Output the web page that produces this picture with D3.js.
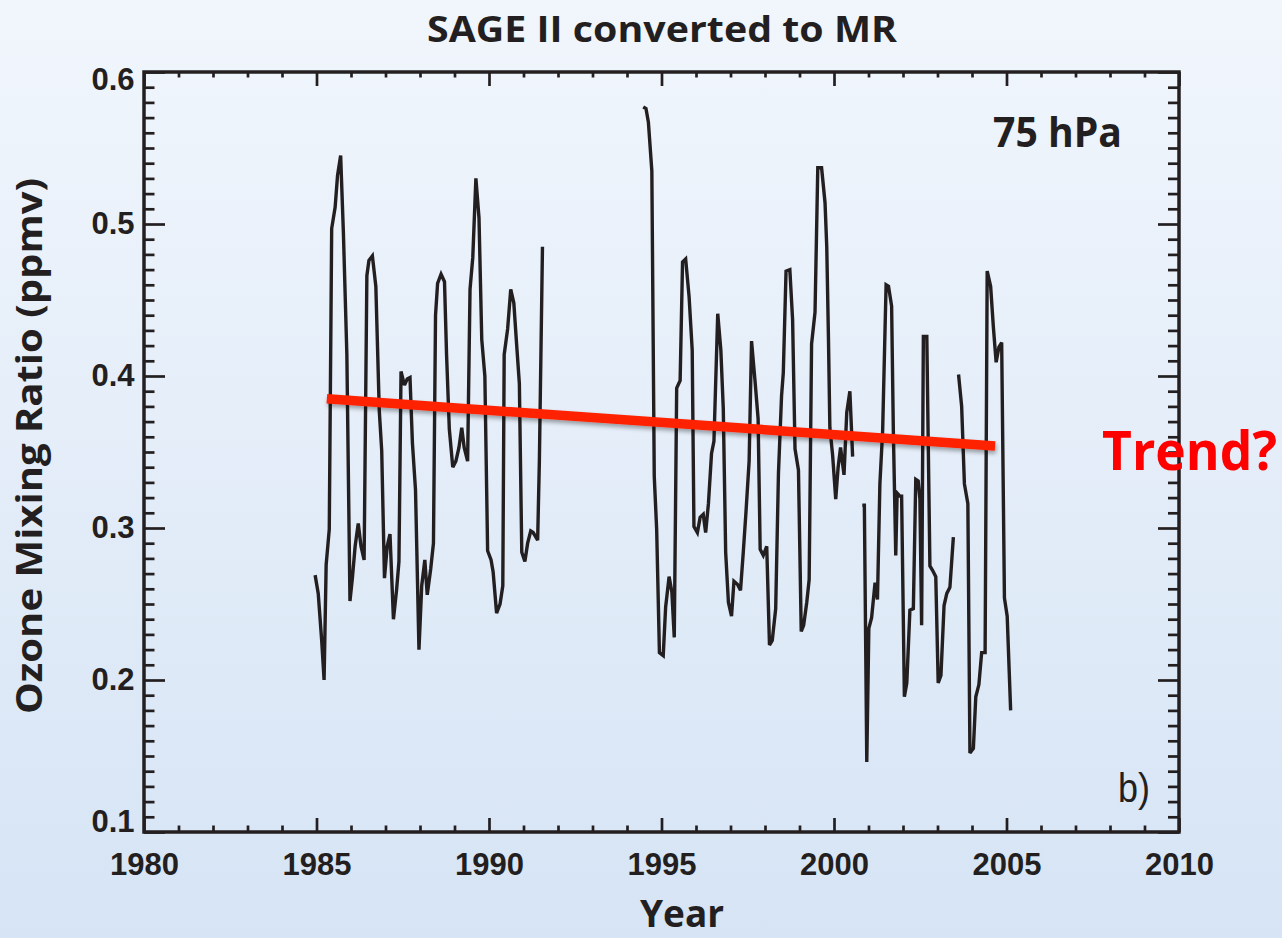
<!DOCTYPE html>
<html><head><meta charset="utf-8">
<script src="https://cdn.jsdelivr.net/npm/d3@7"></script>
<style>html,body{margin:0;padding:0;overflow:hidden;background:#e4edf8}</style>
</head><body><svg id="chart" width="1282" height="938"></svg>
<script>
// ---- data (decimal year, ozone mixing ratio ppmv; null = data gap) ----
const years = [
 1984.96,1985.05,1985.15,1985.22,1985.28,1985.37,1985.44,1985.54,1985.61,1985.70,1985.78,1985.88,1985.97,
 1986.04,1986.12,1986.21,1986.29,1986.38,1986.46,1986.52,1986.62,1986.72,1986.82,1986.89,1986.97,
 1987.05,1987.13,1987.23,1987.32,1987.39,1987.45,1987.55,1987.63,1987.71,1987.78,1987.87,1987.97,
 1988.05,1988.14,1988.21,1988.31,1988.39,1988.45,1988.51,1988.61,1988.71,1988.77,1988.85,1988.95,
 1989.04,1989.13,1989.21,1989.28,1989.38,1989.45,1989.53,1989.62,1989.71,1989.79,1989.88,1989.96,
 1990.06,1990.12,1990.22,1990.32,1990.40,1990.44,1990.54,1990.63,1990.72,1990.80,1990.88,1990.95,
 1991.04,1991.12,1991.21,1991.28,1991.41,1991.46,1991.55,
 1993.00,
 1994.47,1994.55,1994.62,1994.72,1994.79,1994.86,1994.94,
 1995.05,1995.12,1995.22,1995.30,1995.37,1995.44,1995.54,1995.61,1995.70,1995.80,1995.89,1995.94,
 1996.04,1996.12,1996.21,1996.28,1996.36,1996.45,1996.52,1996.63,1996.72,1996.79,1996.86,1996.94,
 1997.03,1997.10,1997.20,1997.29,1997.37,1997.45,1997.54,1997.61,1997.71,1997.80,1997.86,1997.95,
 1998.05,1998.13,1998.21,1998.31,1998.39,1998.48,1998.53,1998.61,1998.72,1998.80,1998.87,1998.97,
 1999.05,1999.12,1999.21,1999.28,1999.35,1999.45,1999.53,1999.55,1999.64,1999.74,1999.79,1999.84,1999.88,1999.96,
 2000.05,2000.12,2000.19,2000.29,2000.37,2000.46,2000.54,
 2000.68,
 2000.82,2000.88,2000.95,2001.01,2001.09,2001.19,2001.26,2001.33,2001.41,2001.51,2001.58,2001.67,2001.72,2001.79,2001.83,2001.91,2001.96,
 2002.04,2002.11,2002.20,2002.30,2002.37,2002.44,2002.49,2002.54,2002.59,2002.69,2002.78,2002.86,2002.95,
 2003.02,2003.10,2003.19,2003.27,2003.36,2003.46,
 2003.53,
 2003.61,2003.70,2003.78,2003.88,2003.94,
 2004.04,2004.11,2004.20,2004.28,2004.38,2004.44,2004.54,2004.62,2004.70,2004.78,2004.86,2004.94,
 2005.02,2005.12
];
const ozone = [
 0.269,0.257,0.226,0.200,0.276,0.299,0.497,0.511,0.532,0.545,0.494,0.414,0.252,
 0.267,0.288,0.303,0.288,0.279,0.466,0.476,0.479,0.459,0.377,0.351,0.267,
 0.288,0.296,0.240,0.259,0.278,0.403,0.394,0.398,0.399,0.356,0.325,0.220,
 0.262,0.279,0.256,0.273,0.290,0.440,0.461,0.467,0.462,0.414,0.365,0.340,
 0.344,0.353,0.366,0.353,0.344,0.457,0.478,0.530,0.504,0.424,0.400,0.285,
 0.279,0.271,0.244,0.250,0.262,0.414,0.431,0.457,0.448,0.421,0.395,0.284,
 0.278,0.290,0.298,0.297,0.292,0.344,0.485,
 null,
 0.577,0.576,0.567,0.535,0.334,0.299,0.218,
 0.216,0.248,0.268,0.258,0.228,0.392,0.397,0.475,0.477,0.452,0.417,0.301,
 0.297,0.307,0.309,0.297,0.316,0.349,0.357,0.441,0.417,0.379,0.284,0.251,
 0.242,0.265,0.263,0.259,0.284,0.311,0.344,0.423,0.397,0.372,0.286,0.282,
 0.288,0.223,0.226,0.247,0.336,0.387,0.402,0.469,0.470,0.437,0.352,0.338,
 0.232,0.236,0.251,0.266,0.421,0.442,0.537,0.537,0.537,0.514,0.485,0.424,0.366,0.348,
 0.319,0.340,0.353,0.335,0.376,0.390,0.347,
 null,
 0.315,0.315,0.146,0.234,0.241,0.264,0.253,0.329,0.364,0.460,0.459,0.446,0.364,0.282,0.323,0.321,0.321,
 0.189,0.198,0.246,0.247,0.332,0.331,0.319,0.236,0.426,0.426,0.275,0.272,0.268,
 0.198,0.203,0.249,0.257,0.261,0.294,
 null,
 0.401,0.380,0.329,0.316,0.152,
 0.155,0.189,0.197,0.218,0.218,0.469,0.459,0.432,0.409,0.419,0.422,0.254,
 0.242,0.180
];
const trendYears = [1985.3, 2004.67];
const trendValues = [0.385, 0.354];
const xTickLabels = [1980, 1985, 1990, 1995, 2000, 2005, 2010];
const yTickLabels = [0.1, 0.2, 0.3, 0.4, 0.5, 0.6];

// ---- layout ----
const W = 1282, H = 938;
const ink = "#231f20";
const svg = d3.select("#chart");
const defs = svg.append("defs");
const grad = defs.append("linearGradient").attr("id","bg").attr("x1",0).attr("y1",0).attr("x2",0).attr("y2",1);
grad.append("stop").attr("offset","0%").attr("stop-color","#f1f6fc");
grad.append("stop").attr("offset","100%").attr("stop-color","#d6e4f5");
const sh = defs.append("filter").attr("id","shadow").attr("x","-5%").attr("y","-200%").attr("width","110%").attr("height","500%");
sh.append("feDropShadow").attr("dx",1).attr("dy",3).attr("stdDeviation",2).attr("flood-color","#000").attr("flood-opacity",0.35);
svg.append("rect").attr("width",W).attr("height",H).attr("fill","url(#bg)");

const x = d3.scaleLinear().domain([1980, 2010]).range([144, 1179]);
const y = d3.scaleLinear().domain([0.1, 0.6]).range([832, 72]);
const [x0, x1] = x.range(), [y0, y1] = y.range();

const xMinor = d3.range(1980, 2011).filter(v => v % 5 !== 0);
const yMinor = d3.range(10, 61).filter(v => v % 10 !== 0).map(v => v / 100);

function addAxis(axis, tx, ty) {
  const g = svg.append("g").attr("transform", `translate(${tx},${ty})`).call(axis);
  g.select(".domain").remove();
  g.attr("color", ink);
  g.selectAll("line").attr("stroke-width", 2.7);
  return g;
}
// bottom
const gb = addAxis(d3.axisBottom(x).tickValues(xTickLabels).tickSize(-14).tickPadding(21).tickFormat(d3.format("d")), 0, y0);
gb.attr("font-family","'Liberation Sans', Arial, sans-serif").attr("font-size",31).attr("font-weight","bold");
addAxis(d3.axisBottom(x).tickValues(xMinor).tickSize(-6.5).tickFormat(""), 0, y0);
// top
addAxis(d3.axisTop(x).tickValues(xTickLabels).tickSize(-14).tickFormat(""), 0, y1);
addAxis(d3.axisTop(x).tickValues(xMinor).tickSize(-5.5).tickFormat(""), 0, y1);
// left
const gl = addAxis(d3.axisLeft(y).tickValues(yTickLabels).tickSize(-21).tickPadding(9.5).tickFormat(d3.format(".1f")), x0, 0);
gl.attr("font-family","'Liberation Sans', Arial, sans-serif").attr("font-size",31).attr("font-weight","bold");
gl.selectAll("text").attr("y", d => d === 0.6 ? 8 : (d === 0.1 ? -10 : 0));
addAxis(d3.axisLeft(y).tickValues(yMinor).tickSize(-10.5).tickFormat(""), x0, 0);
// right
addAxis(d3.axisRight(y).tickValues(yTickLabels).tickSize(-21).tickFormat(""), x1, 0);
addAxis(d3.axisRight(y).tickValues(yMinor).tickSize(-11).tickFormat(""), x1, 0);

// frame
svg.append("rect").attr("x", x0).attr("y", y1).attr("width", x1 - x0).attr("height", y0 - y1)
  .attr("fill","none").attr("stroke", ink).attr("stroke-width", 3.5);

// data line
const pts = years.map((yr, i) => ({yr, v: ozone[i]}));
const line = d3.line().defined(d => d.v !== null).x(d => x(d.yr)).y(d => y(d.v));
svg.append("path").datum(pts).attr("d", line).attr("fill","none")
  .attr("stroke", ink).attr("stroke-width", 3.4).attr("stroke-linejoin","miter").attr("stroke-miterlimit", 3);

// trend line
const tpts = trendYears.map((yr, i) => ({yr, v: trendValues[i]}));
svg.append("path").datum(tpts).attr("d", d3.line().x(d => x(d.yr)).y(d => y(d.v)))
  .attr("fill","none").attr("stroke","#ff2200").attr("stroke-width",9.5).attr("filter","url(#shadow)");

// texts
const bold = "'Open Sans', 'Noto Sans', sans-serif";
function txt(s, px, py, size, opts = {}) {
  const t = svg.append("text").text(s).attr("x", px).attr("y", py)
    .attr("font-family", opts.family || bold).attr("font-weight", opts.weight || "bold")
    .attr("font-size", size).attr("fill", opts.fill || ink)
    .attr("text-anchor", opts.anchor || "middle");
  if (opts.len) t.attr("textLength", opts.len).attr("lengthAdjust","spacingAndGlyphs");
  if (opts.rotate) t.attr("transform", `rotate(${opts.rotate},${px},${py})`);
  return t;
}
txt("SAGE II converted to MR", 662, 42, 35, {len: 470});
txt("Year", 682, 927, 38, {len: 84});
txt("Ozone Mixing Ratio (ppmv)", 42, 446, 36, {len: 536, rotate: -90});
txt("75 hPa", 993, 147, 42, {anchor: "start", len: 129});
txt("Trend?", 1102, 470, 53, {anchor: "start", len: 175, fill: "#ff0000"});
txt("b)", 1118, 802, 40, {anchor: "start", weight: "normal", family: "'Liberation Sans', Arial, sans-serif", len: 32});
</script>
</body></html>
